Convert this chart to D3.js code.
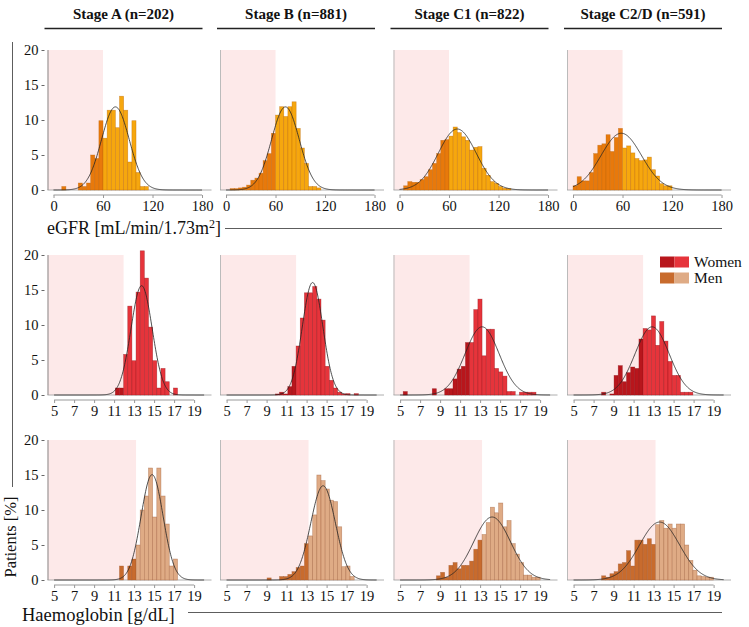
<!DOCTYPE html>
<html><head><meta charset="utf-8">
<script src="https://cdn.jsdelivr.net/npm/d3@7/dist/d3.min.js"></script>
<style>body{margin:0;background:#fff} text{font-family:"Liberation Serif","Times New Roman",serif;fill:#111}</style>
</head><body><svg id="c" width="749" height="627"></svg>
<script>
// ---------- data ----------
const stageLabels = ["Stage A (n=202)", "Stage B (n=881)", "Stage C1 (n=822)", "Stage C2/D (n=591)"];
const yTicks = [0, 5, 10, 15, 20];
const egfrTicks = [0, 60, 120, 180];
const hbTicks = [5, 7, 9, 11, 13, 15, 17, 19];

// eGFR bins: 5 mL/min wide, starting at 0 (percent of patients)
const egfrBinStart = 0, egfrBinWidth = 5;
const egfrA  = [0,0,0.5,0,0,0,1.0,0.5,1.0,5.0,4.5,9.9,7.4,11.4,11.4,8.9,13.4,11.4,4.0,9.9,2.5,0.5,0.5,0,0,0,0,0];
const egfrB  = [0,0.2,0.2,0.3,0.4,0.7,1.4,1.7,2.4,4.2,5.2,8.1,10.7,11.9,10.5,11.9,12.6,8.8,6.0,3.8,0.5,0.5,0.3,0,0,0,0,0];
const egfrC1 = [0,0.6,1.2,1.1,1.1,1.5,1.9,2.9,3.8,5.2,7.1,7.2,7.7,9.0,8.2,7.6,7.1,5.7,6.1,6.2,3.1,2.1,1.2,0.95,0.5,0.25,0.2,0];
const egfrC2 = [0.6,1.9,1.3,1.3,2.5,5.2,6.4,6.6,7.9,5.5,7.5,8.8,6.0,6.3,5.3,4.5,4.2,4.3,4.7,2.9,2.0,0.9,0.6,0.6,0,0,0,0];
const egfrMean = [75, 72, 70, 58.5];
const egfrSd   = [16.8, 16.8, 22.9, 24.6];
const egfrCut = 60;

// Haemoglobin bins (g/dL)
const hbBinStart = 5.31, hbBinWidth = 0.415;
const womenA  = [0,0,0,0,0,0,0,0,0,0,0,0,0,0,1.0,1.0,5.8,12.7,4.9,14.7,20.6,16.7,9.7,4.9,1.0,3.8,1.9,0,1.0,0,0,0,0,0,0,0];
const womenB  = [0,0,0,0,0,0,0,0,0,0,0,0.15,0.4,0.15,1.2,4.1,7.0,11.0,14.6,14.6,15.5,13.7,10.7,4.1,2.1,1.0,0.4,0.15,0.2,0,0.2,0,0,0,0,0];
const womenC1 = [0.5,0,0,0,0,0,0,0.9,0,0,0.9,0.9,2.3,3.7,4.1,7.5,7.5,12.2,13.7,5.6,9.4,9.4,3.8,3.3,2.7,0.5,0.5,0,0.4,0.4,0.4,0.4,0,0,0,0];
const womenC2 = [0,0,0,0,0,0,0.4,0,0.15,2.8,4.2,1.9,3.2,4.0,3.8,8.0,9.5,9.3,11.3,7.1,10.5,7.7,4.8,2.8,2.8,0.4,0.4,0.4,0,0,0,0,0,0,0,0];
const womenMean = [13.75, 13.6, 13.2, 12.85];
const womenSd   = [1.06, 1.03, 1.7, 1.7];
const womenCut = 11.95;

const menA  = [0,0,0,0,0,0,0,0,0,0,0,0,0,0,0,2,0,2,3,5,10,12,16,9,16,12,8,2,3,0,0,0,0,0,0,0];
const menB  = [0,0,0,0,0,0,0,0,0,0.3,0,0,0.5,0.5,0.8,1.2,1.8,2.0,5.2,6.3,9.3,15.0,14.2,13.0,11.4,11.2,7.6,1.9,2.0,0.5,0,0,0,0,0,0];
const menC1 = [0,0,0,0,0,0,0,0,0.6,1.1,0.4,2.1,2.5,1.6,2.1,2.1,2.7,4.4,5.7,6.5,8.2,10.4,9.6,11.0,7.6,8.5,5.2,3.7,2.5,0.7,0.7,0.4,0.4,0,0,0];
const menC2 = [0,0,0,0,0,0,0.6,0.4,0.9,1.2,2.3,2.5,4.2,2.0,5.7,5.7,5.1,5.9,5.1,7.9,8.5,7.4,8.0,7.4,8.0,8.0,5.0,2.8,1.4,0.6,0.5,0.4,0.4,0,0,0];
const menMean = [14.8, 14.65, 14.2, 13.6];
const menSd   = [1.1, 1.23, 1.84, 2.0];
const menCut = 13.195;

// ---------- layout ----------
const svg = d3.select("#c");
const panelLeft = [47.5, 220, 393.5, 567];
const panelW = 164;
const rowTop = [50, 255, 440], rowBottom = [190, 395, 580];
const egfrDomain = [-7.3, -7.3 + panelW / 0.825];
const hbDomain = [4.34, 4.34 + panelW / 10];

const rows = [
  {data: [egfrA, egfrB, egfrC1, egfrC2], start: egfrBinStart, width: egfrBinWidth, cut: egfrCut,
   mean: egfrMean, sd: egfrSd, domain: egfrDomain, ticks: egfrTicks, lo: "#e8790b", hi: "#f6a70e", stroke: "#b86308", cmin: 0, cmax: 180},
  {data: [womenA, womenB, womenC1, womenC2], start: hbBinStart, width: hbBinWidth, cut: womenCut,
   mean: womenMean, sd: womenSd, domain: hbDomain, ticks: hbTicks, lo: "#b8161c", hi: "#e6343b", stroke: "#8e1015", cmin: 5, cmax: 20},
  {data: [menA, menB, menC1, menC2], start: hbBinStart, width: hbBinWidth, cut: menCut,
   mean: menMean, sd: menSd, domain: hbDomain, ticks: hbTicks, lo: "#c86b2d", hi: "#dfab85", stroke: "#9c5a33", cmin: 5, cmax: 20}
];

// stage headers
stageLabels.forEach((s, i) => {
  const cx = panelLeft[i] + panelW / 2 - 6;
  svg.append("text").attr("x", cx).attr("y", 19).attr("text-anchor", "middle")
    .attr("font-size", 15).attr("font-weight", "bold").text(s);
  svg.append("line").attr("x1", panelLeft[i] - 3).attr("x2", panelLeft[i] + 155)
    .attr("y1", 28.5).attr("y2", 28.5).attr("stroke", "#222").attr("stroke-width", 1.3);
});

rows.forEach((row, r) => {
  const y = d3.scaleLinear().domain([0, 20]).range([rowBottom[r], rowTop[r]]);
  row.data.forEach((vals, p) => {
    const L = panelLeft[p];
    const x = d3.scaleLinear().domain(row.domain).range([L, L + panelW]);
    const g = svg.append("g");
    g.append("rect").attr("x", x(row.domain[0])).attr("y", y(20))
      .attr("width", x(row.cut) - x(row.domain[0])).attr("height", y(0) - y(20)).attr("fill", "#fde9e9");
    g.append("line").attr("x1", L + 0.5).attr("x2", L + 0.5).attr("y1", y(20)).attr("y2", y(0))
      .attr("stroke", p === 0 ? "#888" : "#bbb").attr("stroke-width", 1);
    g.append("line").attr("x1", L).attr("x2", L + panelW).attr("y1", y(0)).attr("y2", y(0))
      .attr("stroke", "#999").attr("stroke-width", 0.8);
    const bins = vals.map((v, i) => ({x0: row.start + i * row.width, x1: row.start + (i + 1) * row.width, v}))
      .filter(d => d.v > 0);
    g.selectAll("rect.bar").data(bins).join("rect").attr("class", "bar")
      .attr("x", d => x(d.x0)).attr("width", d => x(d.x1) - x(d.x0))
      .attr("y", d => y(d.v)).attr("height", d => y(0) - y(d.v))
      .attr("fill", d => d.x0 < row.cut - 1e-6 ? row.lo : row.hi)
      .attr("stroke", row.stroke).attr("stroke-opacity", 0.55).attr("stroke-width", 0.6);
    const m = row.mean[p], s = row.sd[p];
    const xs = d3.range(row.cmin, row.cmax + 1e-9, (row.cmax - row.cmin) / 300);
    const line = d3.line().x(d => x(d)).y(d => y(100 * row.width * Math.exp(-0.5 * ((d - m) / s) ** 2) / (s * Math.sqrt(2 * Math.PI))));
    g.append("path").datum(xs).attr("d", line).attr("fill", "none").attr("stroke", "#222").attr("stroke-width", 0.8);
    const ax = g.append("g").attr("transform", `translate(0,${y(0) + 5})`)
      .call(d3.axisBottom(x).tickValues(row.ticks).tickSize(3).tickFormat(d3.format("d")));
    ax.select(".domain").attr("stroke", "#999").attr("d", `M${x(row.ticks[0])},0H${x(row.ticks[row.ticks.length - 1])}`);
    ax.selectAll(".tick line").attr("stroke", "#999");
    ax.selectAll(".tick text").attr("font-size", 14.5).attr("font-family", "Liberation Serif").attr("fill", "#111").attr("dy", "0.7em");
    if (p === 0) {
      const ay = g.append("g").attr("transform", `translate(${L - 3},0)`)
        .call(d3.axisLeft(y).tickValues(yTicks).tickSize(3));
      ay.select(".domain").remove();
      ay.selectAll(".tick line").attr("stroke", "#666");
      ay.selectAll(".tick text").attr("font-size", 14.5).attr("font-family", "Liberation Serif").attr("fill", "#111");
    }
  });
});

const eg = svg.append("text").attr("x", 47).attr("y", 234).attr("font-size", 18);
eg.append("tspan").text("eGFR [mL/min/1.73m");
eg.append("tspan").attr("dy", -6).attr("font-size", 12).text("2");
eg.append("tspan").attr("dy", 6).text("]");
svg.append("line").attr("x1", 225).attr("x2", 722).attr("y1", 228.5).attr("y2", 228.5).attr("stroke", "#333").attr("stroke-width", 0.8);

svg.append("text").attr("x", 22).attr("y", 621).attr("font-size", 18.5).text("Haemoglobin [g/dL]");
svg.append("line").attr("x1", 188).attr("x2", 722).attr("y1", 612.5).attr("y2", 612.5).attr("stroke", "#333").attr("stroke-width", 0.8);

svg.append("text").attr("transform", "translate(16,537) rotate(-90)").attr("text-anchor", "middle")
  .attr("font-size", 16.5).text("Patients [%]");
svg.append("line").attr("x1", 12.5).attr("x2", 12.5).attr("y1", 42).attr("y2", 487).attr("stroke", "#333").attr("stroke-width", 0.8);

const legend = [{label: "Women", c: [rows[1].lo, rows[1].hi]}, {label: "Men", c: [rows[2].lo, rows[2].hi]}];
legend.forEach((d, i) => {
  const yy = 256.5 + i * 16;
  svg.append("rect").attr("x", 660).attr("y", yy).attr("width", 14.5).attr("height", 11).attr("fill", d.c[0]);
  svg.append("rect").attr("x", 674.5).attr("y", yy).attr("width", 14.5).attr("height", 11).attr("fill", d.c[1]);
  svg.append("text").attr("x", 694).attr("y", yy + 10.5).attr("font-size", 15.5).text(d.label);
});
</script></body></html>
